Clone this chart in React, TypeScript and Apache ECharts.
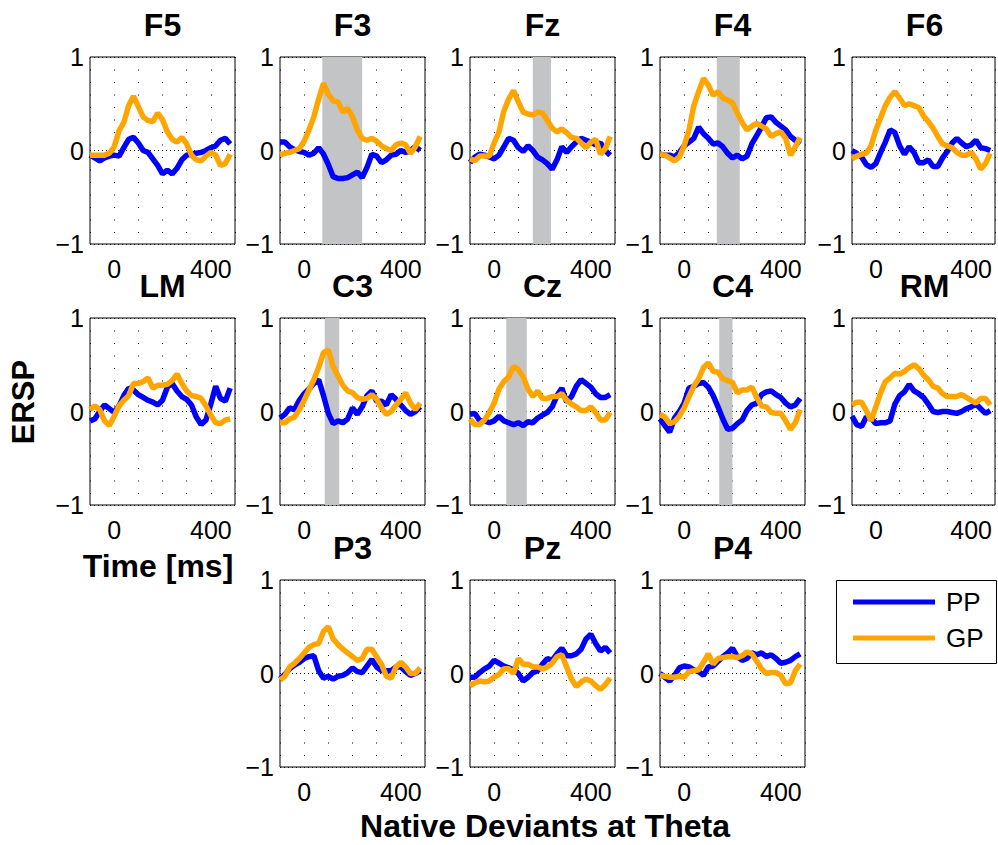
import React, { useEffect, useRef } from 'react';
import * as echarts from 'echarts';

// ---- data ----
const timeMs = [-100, -80, -60, -40, -20, 0, 20, 40, 60, 80, 100, 120, 140, 160, 180, 200, 220, 240, 260, 280, 300, 320, 340, 360, 380, 400, 420, 440, 460, 480];

const f5PP = [-0.05, -0.08, -0.11, -0.08, -0.06, -0.05, -0.06, 0.03, 0.12, 0.14, 0.08, 0.0, -0.02, -0.09, -0.16, -0.25, -0.21, -0.25, -0.19, -0.1, -0.05, -0.04, -0.03, -0.02, 0, 0.03, 0.05, 0.11, 0.13, 0.07];
const f5GP = [-0.05, -0.05, -0.05, -0.05, -0.03, 0.04, 0.21, 0.3, 0.48, 0.58, 0.47, 0.36, 0.32, 0.31, 0.4, 0.33, 0.2, 0.12, 0.09, 0.14, 0.07, -0.05, -0.1, -0.11, -0.06, -0.02, -0.05, -0.16, -0.14, -0.04];
const f3PP = [0.09, 0.09, 0.04, 0.01, -0.01, -0.02, -0.05, -0.03, 0.03, -0.04, -0.15, -0.28, -0.3, -0.3, -0.29, -0.26, -0.23, -0.29, -0.18, -0.04, -0.06, -0.13, -0.1, -0.05, -0.04, 0.0, -0.02, 0.0, 0.04, 0.0];
const f3GP = [-0.05, -0.03, -0.02, 0.0, 0.02, 0.1, 0.22, 0.36, 0.55, 0.72, 0.6, 0.53, 0.52, 0.41, 0.45, 0.36, 0.22, 0.13, 0.11, 0.13, 0.1, 0.05, 0.02, 0.0, 0.06, 0.08, 0.06, -0.03, 0.04, 0.15];
const fzPP = [-0.13, -0.07, -0.04, -0.05, -0.07, -0.09, -0.05, 0.04, 0.13, 0.11, 0.03, -0.01, 0.05, 0.0, -0.07, -0.1, -0.14, -0.2, -0.1, 0.04, -0.02, 0.04, 0.09, 0.13, 0.11, 0.09, 0.06, 0.08, 0.0, -0.05];
const fzGP = [-0.09, -0.11, -0.06, -0.06, -0.06, 0.08, 0.2, 0.42, 0.55, 0.64, 0.52, 0.41, 0.39, 0.38, 0.41, 0.4, 0.32, 0.24, 0.2, 0.23, 0.19, 0.14, 0.13, 0.08, 0.03, 0.09, 0.12, -0.04, 0.02, 0.15];
const f4PP = [-0.04, -0.05, -0.05, -0.07, -0.02, 0.05, 0.09, 0.13, 0.25, 0.18, 0.13, 0.07, 0.08, 0.04, -0.03, -0.08, -0.05, -0.09, -0.06, 0.07, 0.16, 0.25, 0.35, 0.36, 0.3, 0.26, 0.22, 0.15, 0.11, 0.07];
const f4GP = [-0.04, -0.05, -0.08, -0.11, -0.07, 0.05, 0.22, 0.48, 0.63, 0.77, 0.7, 0.59, 0.63, 0.56, 0.54, 0.51, 0.4, 0.3, 0.22, 0.26, 0.29, 0.26, 0.23, 0.15, 0.18, 0.2, 0.13, -0.05, 0.04, 0.14];
const f6PP = [0.0, -0.03, -0.07, -0.15, -0.18, -0.14, -0.02, 0.09, 0.22, 0.19, 0.05, -0.04, 0.04, -0.02, -0.13, -0.13, -0.1, -0.17, -0.17, -0.08, -0.01, 0.08, 0.13, 0.08, 0.04, 0.06, 0.11, 0.03, 0.02, 0.0];
const f6GP = [-0.09, -0.06, -0.04, -0.03, 0.05, 0.22, 0.35, 0.48, 0.57, 0.63, 0.56, 0.48, 0.5, 0.48, 0.46, 0.37, 0.31, 0.24, 0.15, 0.07, 0.05, 0.03, -0.02, -0.05, -0.05, -0.02, -0.09, -0.2, -0.14, -0.03];
const lmPP = [-0.1, -0.08, 0.0, 0.07, 0.03, -0.01, 0.06, 0.17, 0.25, 0.23, 0.18, 0.15, 0.12, 0.1, 0.07, 0.12, 0.26, 0.3, 0.22, 0.16, 0.13, 0.07, -0.06, -0.14, -0.09, 0.08, 0.27, 0.14, 0.11, 0.25];
const lmGP = [0.02, 0.06, 0.02, -0.1, -0.15, -0.05, 0.06, 0.12, 0.17, 0.3, 0.3, 0.32, 0.36, 0.25, 0.28, 0.28, 0.29, 0.33, 0.4, 0.3, 0.22, 0.17, 0.16, 0.14, 0.06, -0.04, -0.12, -0.13, -0.09, -0.08];
const c3PP = [-0.07, -0.03, 0.04, 0.02, 0.12, 0.19, 0.24, 0.3, 0.34, 0.17, -0.02, -0.13, -0.1, -0.12, -0.08, 0.04, -0.03, 0.05, 0.17, 0.22, 0.11, 0.11, 0.07, 0.18, 0.13, 0.07, 0.01, -0.03, 0.0, 0.05];
const c3GP = [-0.12, -0.12, -0.08, -0.06, 0.02, 0.12, 0.23, 0.34, 0.47, 0.63, 0.66, 0.48, 0.38, 0.28, 0.22, 0.2, 0.15, 0.13, 0.14, 0.18, 0.13, 0.04, -0.03, 0.0, 0.07, 0.13, 0.2, 0.09, 0.02, 0.09];
const czPP = [-0.03, -0.02, -0.1, -0.1, -0.12, -0.1, -0.05, -0.1, -0.12, -0.14, -0.12, -0.15, -0.11, -0.12, -0.07, -0.04, -0.01, 0.05, 0.17, 0.25, 0.1, 0.16, 0.27, 0.34, 0.3, 0.26, 0.19, 0.15, 0.15, 0.18];
const czGP = [-0.08, -0.14, -0.14, -0.09, -0.01, 0.09, 0.24, 0.32, 0.37, 0.48, 0.45, 0.37, 0.24, 0.16, 0.22, 0.14, 0.14, 0.16, 0.16, 0.19, 0.12, 0.08, 0.05, 0.01, 0.01, 0.05, -0.01, -0.09, -0.09, -0.01];
const c4PP = [-0.08, -0.15, -0.22, -0.07, 0.0, 0.09, 0.25, 0.27, 0.3, 0.31, 0.26, 0.17, 0.05, -0.08, -0.19, -0.18, -0.13, -0.09, 0.01, 0.07, 0.09, 0.18, 0.21, 0.22, 0.18, 0.15, 0.09, 0.05, 0.07, 0.14];
const c4GP = [-0.03, -0.06, -0.13, -0.11, -0.05, 0.04, 0.16, 0.27, 0.35, 0.47, 0.52, 0.43, 0.42, 0.35, 0.33, 0.31, 0.2, 0.23, 0.23, 0.26, 0.15, 0.06, 0.05, -0.01, -0.02, -0.02, -0.1, -0.19, -0.12, 0.02];
const rmPP = [-0.05, -0.14, -0.16, -0.06, -0.07, -0.13, -0.12, -0.12, -0.1, 0.08, 0.17, 0.21, 0.29, 0.22, 0.19, 0.15, 0.08, 0.0, -0.01, 0.0, 0.0, -0.01, -0.02, 0.0, 0.03, 0.05, 0.08, 0.03, -0.02, 0.01];
const rmGP = [0.07, 0.1, 0.1, 0.01, -0.1, 0.05, 0.2, 0.32, 0.36, 0.41, 0.4, 0.43, 0.47, 0.5, 0.46, 0.39, 0.34, 0.27, 0.25, 0.19, 0.16, 0.16, 0.16, 0.18, 0.15, 0.12, 0.09, 0.14, 0.14, 0.07];
const p3PP = [-0.06, -0.01, 0.05, 0.09, 0.12, 0.16, 0.18, 0.19, 0.03, -0.05, -0.03, -0.06, -0.03, -0.02, 0.01, 0.06, 0.02, 0.01, 0.08, 0.15, 0.07, 0.03, 0.03, 0.03, 0.07, 0.07, 0.02, -0.02, 0.0, 0.03];
const p3GP = [-0.07, -0.03, 0.07, 0.11, 0.16, 0.22, 0.28, 0.31, 0.32, 0.45, 0.5, 0.37, 0.31, 0.26, 0.22, 0.18, 0.14, 0.16, 0.26, 0.26, 0.18, 0.1, -0.03, -0.05, 0.07, 0.12, 0.07, 0.0, 0.0, 0.06];
const pzPP = [-0.04, -0.04, 0.01, 0.05, 0.08, 0.14, 0.11, 0.08, 0.06, 0.04, 0.0, -0.08, -0.04, 0.01, 0.03, 0.1, 0.16, 0.14, 0.21, 0.27, 0.19, 0.19, 0.21, 0.26, 0.37, 0.42, 0.32, 0.24, 0.28, 0.22];
const pzGP = [-0.13, -0.1, -0.08, -0.09, -0.08, -0.04, -0.01, 0.05, 0.05, 0.0, 0.16, 0.1, 0.1, 0.07, 0.07, 0.05, 0.07, 0.11, 0.18, 0.2, 0.07, -0.06, -0.14, -0.09, -0.06, -0.08, -0.13, -0.17, -0.12, -0.05];
const p4PP = [0.0, -0.04, -0.08, -0.02, 0.06, 0.08, 0.07, 0.04, 0.02, -0.02, 0.07, 0.08, 0.13, 0.18, 0.22, 0.27, 0.18, 0.14, 0.16, 0.22, 0.2, 0.22, 0.18, 0.2, 0.16, 0.11, 0.12, 0.14, 0.18, 0.21];
const p4GP = [-0.02, -0.03, -0.04, -0.04, -0.03, -0.04, 0.02, 0.03, 0.04, 0.12, 0.21, 0.1, 0.16, 0.17, 0.18, 0.18, 0.17, 0.19, 0.23, 0.21, 0.13, 0.05, 0.0, 0.01, 0.01, -0.02, -0.11, -0.1, 0.03, 0.1];

const panelNames = ['F5', 'F3', 'Fz', 'F4', 'F6', 'LM', 'C3', 'Cz', 'C4', 'RM', 'P3', 'Pz', 'P4'];
const ppValues = [f5PP, f3PP, fzPP, f4PP, f6PP, lmPP, c3PP, czPP, c4PP, rmPP, p3PP, pzPP, p4PP];
const gpValues = [f5GP, f3GP, fzGP, f4GP, f6GP, lmGP, c3GP, czGP, c4GP, rmGP, p3GP, pzGP, p4GP];
// significant windows (ms), null = none
const shadeWindows: (number[] | null)[] = [null, [75, 240], [160, 235], [135, 230], null, null, [85, 145], [50, 135], [145, 200], null, null, null, null];
const seriesNames = ['PP', 'GP'];
const xLabelTicks = [0, 400];

// ---- layout ----
const colLeft = [90, 280, 470, 660, 852];
const rowTop = [57, 318, 580];
const panelW = 145;
const panelH = 187;
const panelCell = [[0, 0], [0, 1], [0, 2], [0, 3], [0, 4], [1, 0], [1, 1], [1, 2], [1, 3], [1, 4], [2, 1], [2, 2], [2, 3]];
const FONT = '"Liberation Sans", Arial, Helvetica, sans-serif';
const BLUE = '#0000ff';
const ORANGE = '#ffa500';

export default function App() {
  const ref = useRef<HTMLDivElement>(null);
  useEffect(() => {
    if (!ref.current) return;
    const chart = echarts.init(ref.current, null, { renderer: 'svg' });
    const grids: any[] = [];
    const xAxes: any[] = [];
    const yAxes: any[] = [];
    const series: any[] = [];
    const graphics: any[] = [];
    panelNames.forEach((name, i) => {
      const [r, c] = panelCell[i];
      const left = colLeft[c];
      const top = rowTop[r];
      grids.push({ left, top, width: panelW, height: panelH, show: true, borderColor: '#000', borderWidth: 1, backgroundColor: '#fff' });
      xAxes.push({
        gridIndex: i, type: 'value', min: -100, max: 500, interval: 100,
        axisLine: { show: false }, axisTick: { show: false },
        splitLine: { show: true, lineStyle: { color: '#000', width: 1, type: [1, 11.5] } },
        axisLabel: {
          formatter: (v: number) => (xLabelTicks.includes(v) ? String(v) : ''),
          fontSize: 25, color: '#000', fontFamily: FONT, margin: 12,
        },
      });
      yAxes.push({
        gridIndex: i, type: 'value', min: -1, max: 1, interval: 1,
        axisLine: { show: false }, axisTick: { show: false },
        splitLine: { show: true, lineStyle: { color: '#000', width: 1, type: [1, 3] } },
        axisLabel: {
          formatter: (v: number) => (v < 0 ? '\u2212' + Math.abs(v) : String(v)),
          fontSize: 25, color: '#000', fontFamily: FONT, margin: 6,
        },
      });
      const shade = shadeWindows[i];
      series.push({
        name: seriesNames[0], type: 'line', xAxisIndex: i, yAxisIndex: i,
        data: timeMs.map((t, k) => [t, ppValues[i][k]]),
        showSymbol: false, symbol: 'none', z: 2,
        lineStyle: { color: BLUE, width: 5.5 }, itemStyle: { color: BLUE },
        markArea: shade ? { silent: true, itemStyle: { color: '#c3c4c6', opacity: 1 }, data: [[{ xAxis: shade[0] }, { xAxis: shade[1] }]] } : undefined,
      });
      series.push({
        name: seriesNames[1], type: 'line', xAxisIndex: i, yAxisIndex: i,
        data: timeMs.map((t, k) => [t, gpValues[i][k]]),
        showSymbol: false, symbol: 'none', z: 3,
        lineStyle: { color: ORANGE, width: 5.5 }, itemStyle: { color: ORANGE },
      });
      graphics.push({
        type: 'text', x: left + panelW / 2, y: top - 32, z: 10,
        style: { text: name, textAlign: 'center', textVerticalAlign: 'middle', fontSize: 32, fontWeight: 'bold', fontFamily: FONT, fill: '#000' },
      });
    });
    graphics.push({
      type: 'text', x: 23, y: 402, rotation: Math.PI / 2, z: 10,
      style: { text: 'ERSP', textAlign: 'center', textVerticalAlign: 'middle', fontSize: 31, fontWeight: 'bold', fontFamily: FONT, fill: '#000' },
    });
    graphics.push({
      type: 'text', x: 158, y: 566, z: 10,
      style: { text: 'Time [ms]', textAlign: 'center', textVerticalAlign: 'middle', fontSize: 32, fontWeight: 'bold', fontFamily: FONT, fill: '#000' },
    });
    graphics.push({
      type: 'text', x: 545, y: 826, z: 10,
      style: { text: 'Native Deviants at Theta', textAlign: 'center', textVerticalAlign: 'middle', fontSize: 32, fontWeight: 'bold', fontFamily: FONT, fill: '#000' },
    });
    // legend
    graphics.push({ type: 'rect', z: 10, shape: { x: 836.5, y: 580.5, width: 160, height: 83 }, style: { fill: '#fff', stroke: '#000', lineWidth: 1 } });
    [BLUE, ORANGE].forEach((col, k) => {
      const y = 602 + k * 36;
      graphics.push({ type: 'line', z: 11, shape: { x1: 853, y1: y, x2: 935, y2: y }, style: { stroke: col, lineWidth: 5 } });
      graphics.push({ type: 'text', z: 11, x: 946, y, style: { text: seriesNames[k], textAlign: 'left', textVerticalAlign: 'middle', fontSize: 26, fontFamily: FONT, fill: '#000' } });
    });

    chart.setOption({
      animation: false,
      backgroundColor: '#fff',
      grid: grids,
      xAxis: xAxes,
      yAxis: yAxes,
      series,
      graphic: graphics,
    });
    return () => chart.dispose();
  }, []);
  return <div ref={ref} style={{ position: 'fixed', left: 0, top: 0, width: 998, height: 845, background: '#fff' }} />;
}
